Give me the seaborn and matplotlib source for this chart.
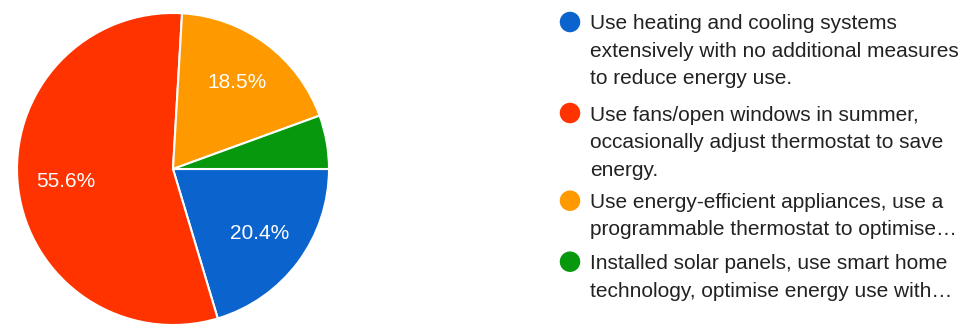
import matplotlib
matplotlib.use("Agg")
import matplotlib.pyplot as plt
import seaborn as sns

# Survey responses: how households manage home energy use
categories = [
    "Use heating and cooling systems extensively with no additional measures to reduce energy use.",
    "Use fans/open windows in summer, occasionally adjust thermostat to save energy.",
    "Use energy-efficient appliances, use a programmable thermostat to optimise…",
    "Installed solar panels, use smart home technology, optimise energy use with…",
]
legend_lines = [
    ["Use heating and cooling systems", "extensively with no additional measures", "to reduce energy use."],
    ["Use fans/open windows in summer,", "occasionally adjust thermostat to save", "energy."],
    ["Use energy-efficient appliances, use a", "programmable thermostat to optimise…"],
    ["Installed solar panels, use smart home", "technology, optimise energy use with…"],
]
counts = [11, 30, 10, 3]
colors = ["#0b63ce", "#ff3300", "#ff9900", "#07980e"]

sns.set_theme(style="white")
plt.rcParams["font.family"] = ["Liberation Sans", "DejaVu Sans"]
palette = sns.color_palette(colors)

W, H = 967, 324
fig = plt.figure(figsize=(W / 100, H / 100), dpi=100)

# pie axes: centre (173, 169) px from top-left, radius 156 px
cx, cy, r = 173, 169, 156
ax = fig.add_axes([(cx - r) / W, (H - cy - r) / H, 2 * r / W, 2 * r / H])
ax.set_axis_off()

total = sum(counts)


def fmt(p):
    return f"{p:.1f}%" if p >= 8 else ""


wedges, texts, autotexts = ax.pie(
    counts,
    colors=palette,
    startangle=0,
    counterclock=False,
    autopct=fmt,
    pctdistance=0.69,
    radius=1.0,
    wedgeprops=dict(edgecolor="white", linewidth=1.5),
    textprops=dict(color="white", fontsize=15),
)
ax.set_xlim(-1, 1)
ax.set_ylim(-1, 1)
ax.set_aspect("equal")
for w in wedges:
    w.set_clip_on(False)

# legend, drawn in pixel coordinates
lax = fig.add_axes([0, 0, 1, 1])
lax.set_xlim(0, W)
lax.set_ylim(H, 0)
lax.set_axis_off()

marker_y = [22, 113, 200.7, 261.7]
first_baseline = [29.3, 120.7, 207.7, 269.3]
line_step = 27.6
for i, lines in enumerate(legend_lines):
    lax.scatter([570], [marker_y[i]], s=20.5 ** 2 * 0.5184, color=palette[i], edgecolor="none")
    for j, line in enumerate(lines):
        lax.text(590, first_baseline[i] + j * line_step, line, fontsize=15,
                 color="#222222", va="baseline", ha="left")

fig.savefig("out.png", dpi=100, facecolor="white")
